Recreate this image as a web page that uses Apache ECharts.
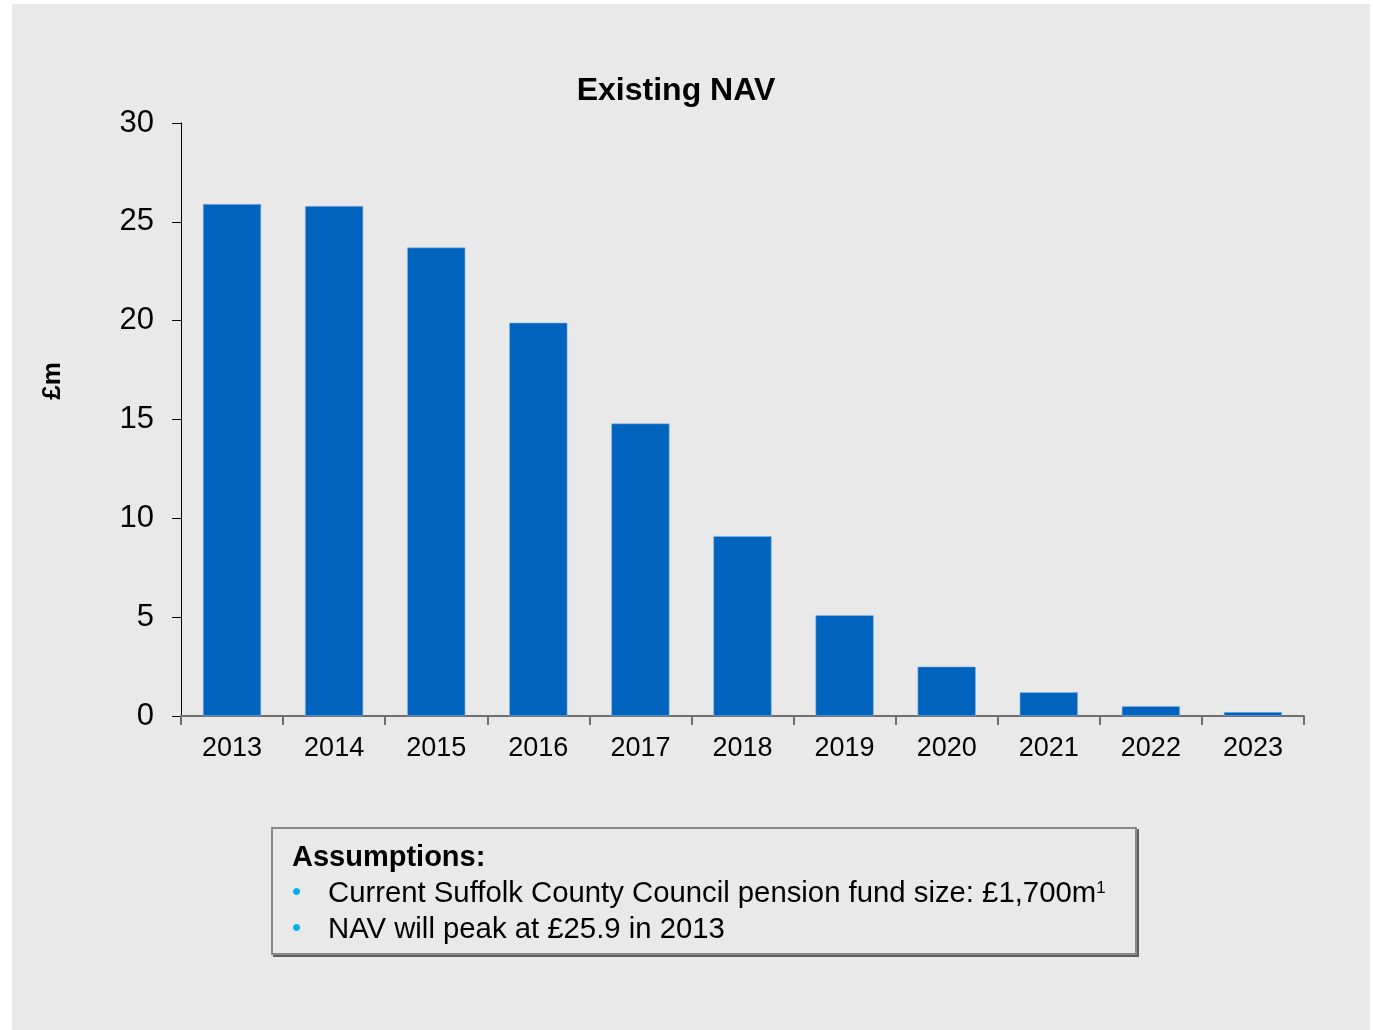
<!DOCTYPE html>
<html>
<head>
<meta charset="utf-8">
<script src="https://cdn.jsdelivr.net/npm/echarts@6/dist/echarts.min.js"></script>
<style>
html,body{margin:0;padding:0;background:#ffffff;}
#chart{width:1373px;height:1030px;}
</style>
</head>
<body>
<div id="chart"></div>
<script>
var titleText = 'Existing NAV';
var yAxisName = '£m';
var categories = ['2013','2014','2015','2016','2017','2018','2019','2020','2021','2022','2023'];
var navValues = [25.9, 25.8, 23.7, 19.9, 14.8, 9.1, 5.1, 2.5, 1.2, 0.5, 0.2];
var yMin = 0, yMax = 30, yStep = 5;
var boxHeading = 'Assumptions:';
var boxLine1 = 'Current Suffolk County Council pension fund size: £1,700m';
var boxLine1Sup = '1';
var boxLine2 = 'NAV will peak at £25.9 in 2013';

var FONT = '"Liberation Sans", Arial, sans-serif';
var chart = echarts.init(document.getElementById('chart'), null, {renderer: 'canvas'});
chart.setOption({
  backgroundColor: '#ffffff',
  animation: false,
  grid: {left: 181, right: 69, top: 123, bottom: 314, containLabel: false},
  xAxis: {
    type: 'category',
    data: categories,
    axisLine: {show: true, lineStyle: {color: '#6e6e6e', width: 2}},
    axisTick: {show: true, alignWithLabel: false, length: 9, lineStyle: {color: '#6e6e6e', width: 2}},
    axisLabel: {fontFamily: FONT, fontSize: 27, color: '#000', margin: 19}
  },
  yAxis: {
    type: 'value',
    min: yMin, max: yMax, interval: yStep,
    splitLine: {show: false},
    axisLine: {show: true, lineStyle: {color: '#000', width: 1}},
    axisTick: {show: true, length: 9, lineStyle: {color: '#000', width: 1}},
    axisLabel: {fontFamily: FONT, fontSize: 31, color: '#000', margin: 27}
  },
  series: [{
    type: 'bar',
    data: navValues,
    barWidth: '57%',
    itemStyle: {color: '#0063be', borderColor: '#8fb8e0', borderWidth: 0.6},
    z: 3
  }],
  graphic: [
    {type: 'rect', z: -10, silent: true, shape: {x: 12, y: 4, width: 1358, height: 1026}, style: {fill: '#e9e9e9'}},
    {type: 'text', z: 7, style: {x: 676, y: 91, text: titleText, font: 'bold 32px ' + FONT, fill: '#000', textAlign: 'center', textVerticalAlign: 'middle'}},
    {type: 'text', z: 7, rotation: Math.PI / 2, x: 53, y: 381, style: {x: 0, y: 0, text: yAxisName, font: 'bold 26px ' + FONT, fill: '#000', textAlign: 'center', textVerticalAlign: 'middle'}},
    {type: 'rect', z: 5, shape: {x: 274, y: 830, width: 864, height: 126}, style: {fill: 'none', stroke: '#5f5f5f', lineWidth: 2}},
    {type: 'rect', z: 6, shape: {x: 272, y: 828, width: 864, height: 126}, style: {fill: '#e9e9e9', stroke: '#8a8a8a', lineWidth: 2}},
    {type: 'text', z: 7, style: {x: 292, y: 858, text: boxHeading, font: 'bold 29px ' + FONT, fill: '#000', textVerticalAlign: 'middle'}},
    {type: 'text', z: 7, style: {x: 292, y: 893, text: '•', font: '26px ' + FONT, fill: '#00b0f0', textVerticalAlign: 'middle'}},
    {type: 'text', z: 7, style: {x: 292, y: 929, text: '•', font: '26px ' + FONT, fill: '#00b0f0', textVerticalAlign: 'middle'}},
    {type: 'text', z: 7, style: {
      x: 328, y: 894, textVerticalAlign: 'middle',
      text: '{a|' + boxLine1 + '}{s|' + boxLine1Sup + '}',
      rich: {
        a: {fontFamily: FONT, fontSize: 29.3, fill: '#000', verticalAlign: 'bottom'},
        s: {fontFamily: FONT, fontSize: 17, fill: '#000', verticalAlign: 'top', padding: [0, 0, 8, 0]}
      }
    }},
    {type: 'text', z: 7, style: {x: 328, y: 930, text: boxLine2, font: '29.3px ' + FONT, fill: '#000', textVerticalAlign: 'middle'}}
  ]
});
</script>
</body>
</html>
